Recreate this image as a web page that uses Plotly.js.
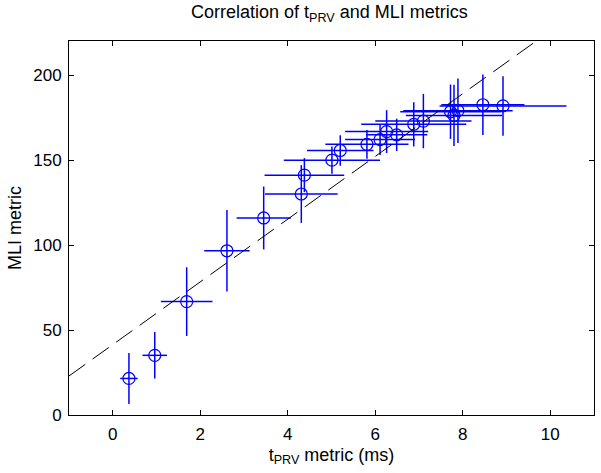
<!DOCTYPE html>
<html>
<head>
<meta charset="utf-8">
<script src="https://cdn.plot.ly/plotly-3.0.1.min.js"></script>
<style>html,body{margin:0;padding:0;background:#fff;}#chart{width:601px;height:473px;}</style>
</head>
<body>
<div id="chart"></div>
<script>
// tPRV metric (ms) and MLI metric, with error estimates
const tprv    = [0.37, 0.96, 1.69, 2.61, 3.45, 4.31, 4.38, 5.01, 5.20, 5.81, 6.11, 6.26, 6.49, 6.88, 7.10, 7.72, 7.80, 7.89, 8.46, 8.92];
const mli     = [21.5, 35.1, 66.7, 96.6, 115.9, 130.0, 141.1, 149.9, 155.6, 159.2, 162.0, 166.7, 164.8, 171.0, 172.9, 178.4, 176.2, 179.0, 182.5, 181.8];
const tprvErr = [0.20, 0.28, 0.59, 0.52, 0.62, 0.83, 0.91, 1.10, 0.76, 0.95, 0.80, 0.95, 0.70, 1.20, 1.10, 1.15, 1.10, 1.25, 0.95, 1.45];
const mliErr  = [15.0, 13.7, 20.2, 24.0, 18.5, 17.0, 10.0, 8.0, 9.0, 8.5, 9.0, 12.6, 9.5, 13.0, 16.0, 16.0, 18.0, 19.0, 17.8, 17.5];
// least-squares fit line parameters
const fitSlope = 18.45;
const fitIntercept = 41.4;
const fitX = [-1, 11];
const fitY = fitX.map(x => fitIntercept + fitSlope * x);

const xTicks = [0, 2, 4, 6, 8, 10];
const yTicks = [0, 50, 100, 150, 200];

const FONT = 'Liberation Sans, Arial, sans-serif';

const traces = [
  {
    type: 'scatter', mode: 'markers',
    x: tprv, y: mli,
    marker: {symbol: 'circle-open', size: 12, color: '#0000ff', line: {width: 1.2, color: '#0000ff'}},
    error_x: {type: 'data', array: tprvErr, visible: true, width: 0, thickness: 1.5, color: '#0000ff'},
    error_y: {type: 'data', array: mliErr, visible: true, width: 0, thickness: 1.5, color: '#0000ff'},
    showlegend: false, hoverinfo: 'x+y'
  },
  {
    type: 'scatter', mode: 'lines',
    x: fitX, y: fitY,
    line: {color: '#000000', width: 1, dash: '20px,9px'},
    showlegend: false, hoverinfo: 'skip'
  }
];

const layout = {
  width: 601, height: 473,
  margin: {l: 69, r: 7, t: 41, b: 58, pad: 0},
  paper_bgcolor: '#ffffff', plot_bgcolor: '#ffffff',
  font: {family: FONT, size: 17, color: '#000'},
  title: {text: 'Correlation of t<sub>PRV</sub> and MLI metrics', font: {family: FONT, size: 18, color: '#000'},
          x: 0.548, xanchor: 'center', y: 0.975, yanchor: 'middle'},
  xaxis: {
    range: [-1, 11], tickvals: xTicks, ticktext: xTicks.map(String),
    ticks: 'inside', ticklen: 5, tickcolor: '#000', tickwidth: 1,
    showline: true, linecolor: '#000', linewidth: 1, mirror: 'ticks',
    showgrid: false, zeroline: false, ticklabelstandoff: 4,
    tickfont: {family: FONT, size: 17, color: '#000'},
    title: {text: 't<sub>PRV</sub> metric (ms)', font: {family: FONT, size: 18, color: '#000'}, standoff: 4}
  },
  yaxis: {
    range: [0, 220], tickvals: yTicks, ticktext: yTicks.map(String),
    ticks: 'inside', ticklen: 5, tickcolor: '#000', tickwidth: 1,
    showline: true, linecolor: '#000', linewidth: 1, mirror: 'ticks',
    showgrid: false, zeroline: false, ticklabelstandoff: 3,
    tickfont: {family: FONT, size: 17, color: '#000'},
    title: {text: 'MLI metric', font: {family: FONT, size: 18, color: '#000'}, standoff: 6}
  }
};

Plotly.newPlot('chart', traces, layout, {displayModeBar: false, staticPlot: true});
</script>
</body>
</html>
